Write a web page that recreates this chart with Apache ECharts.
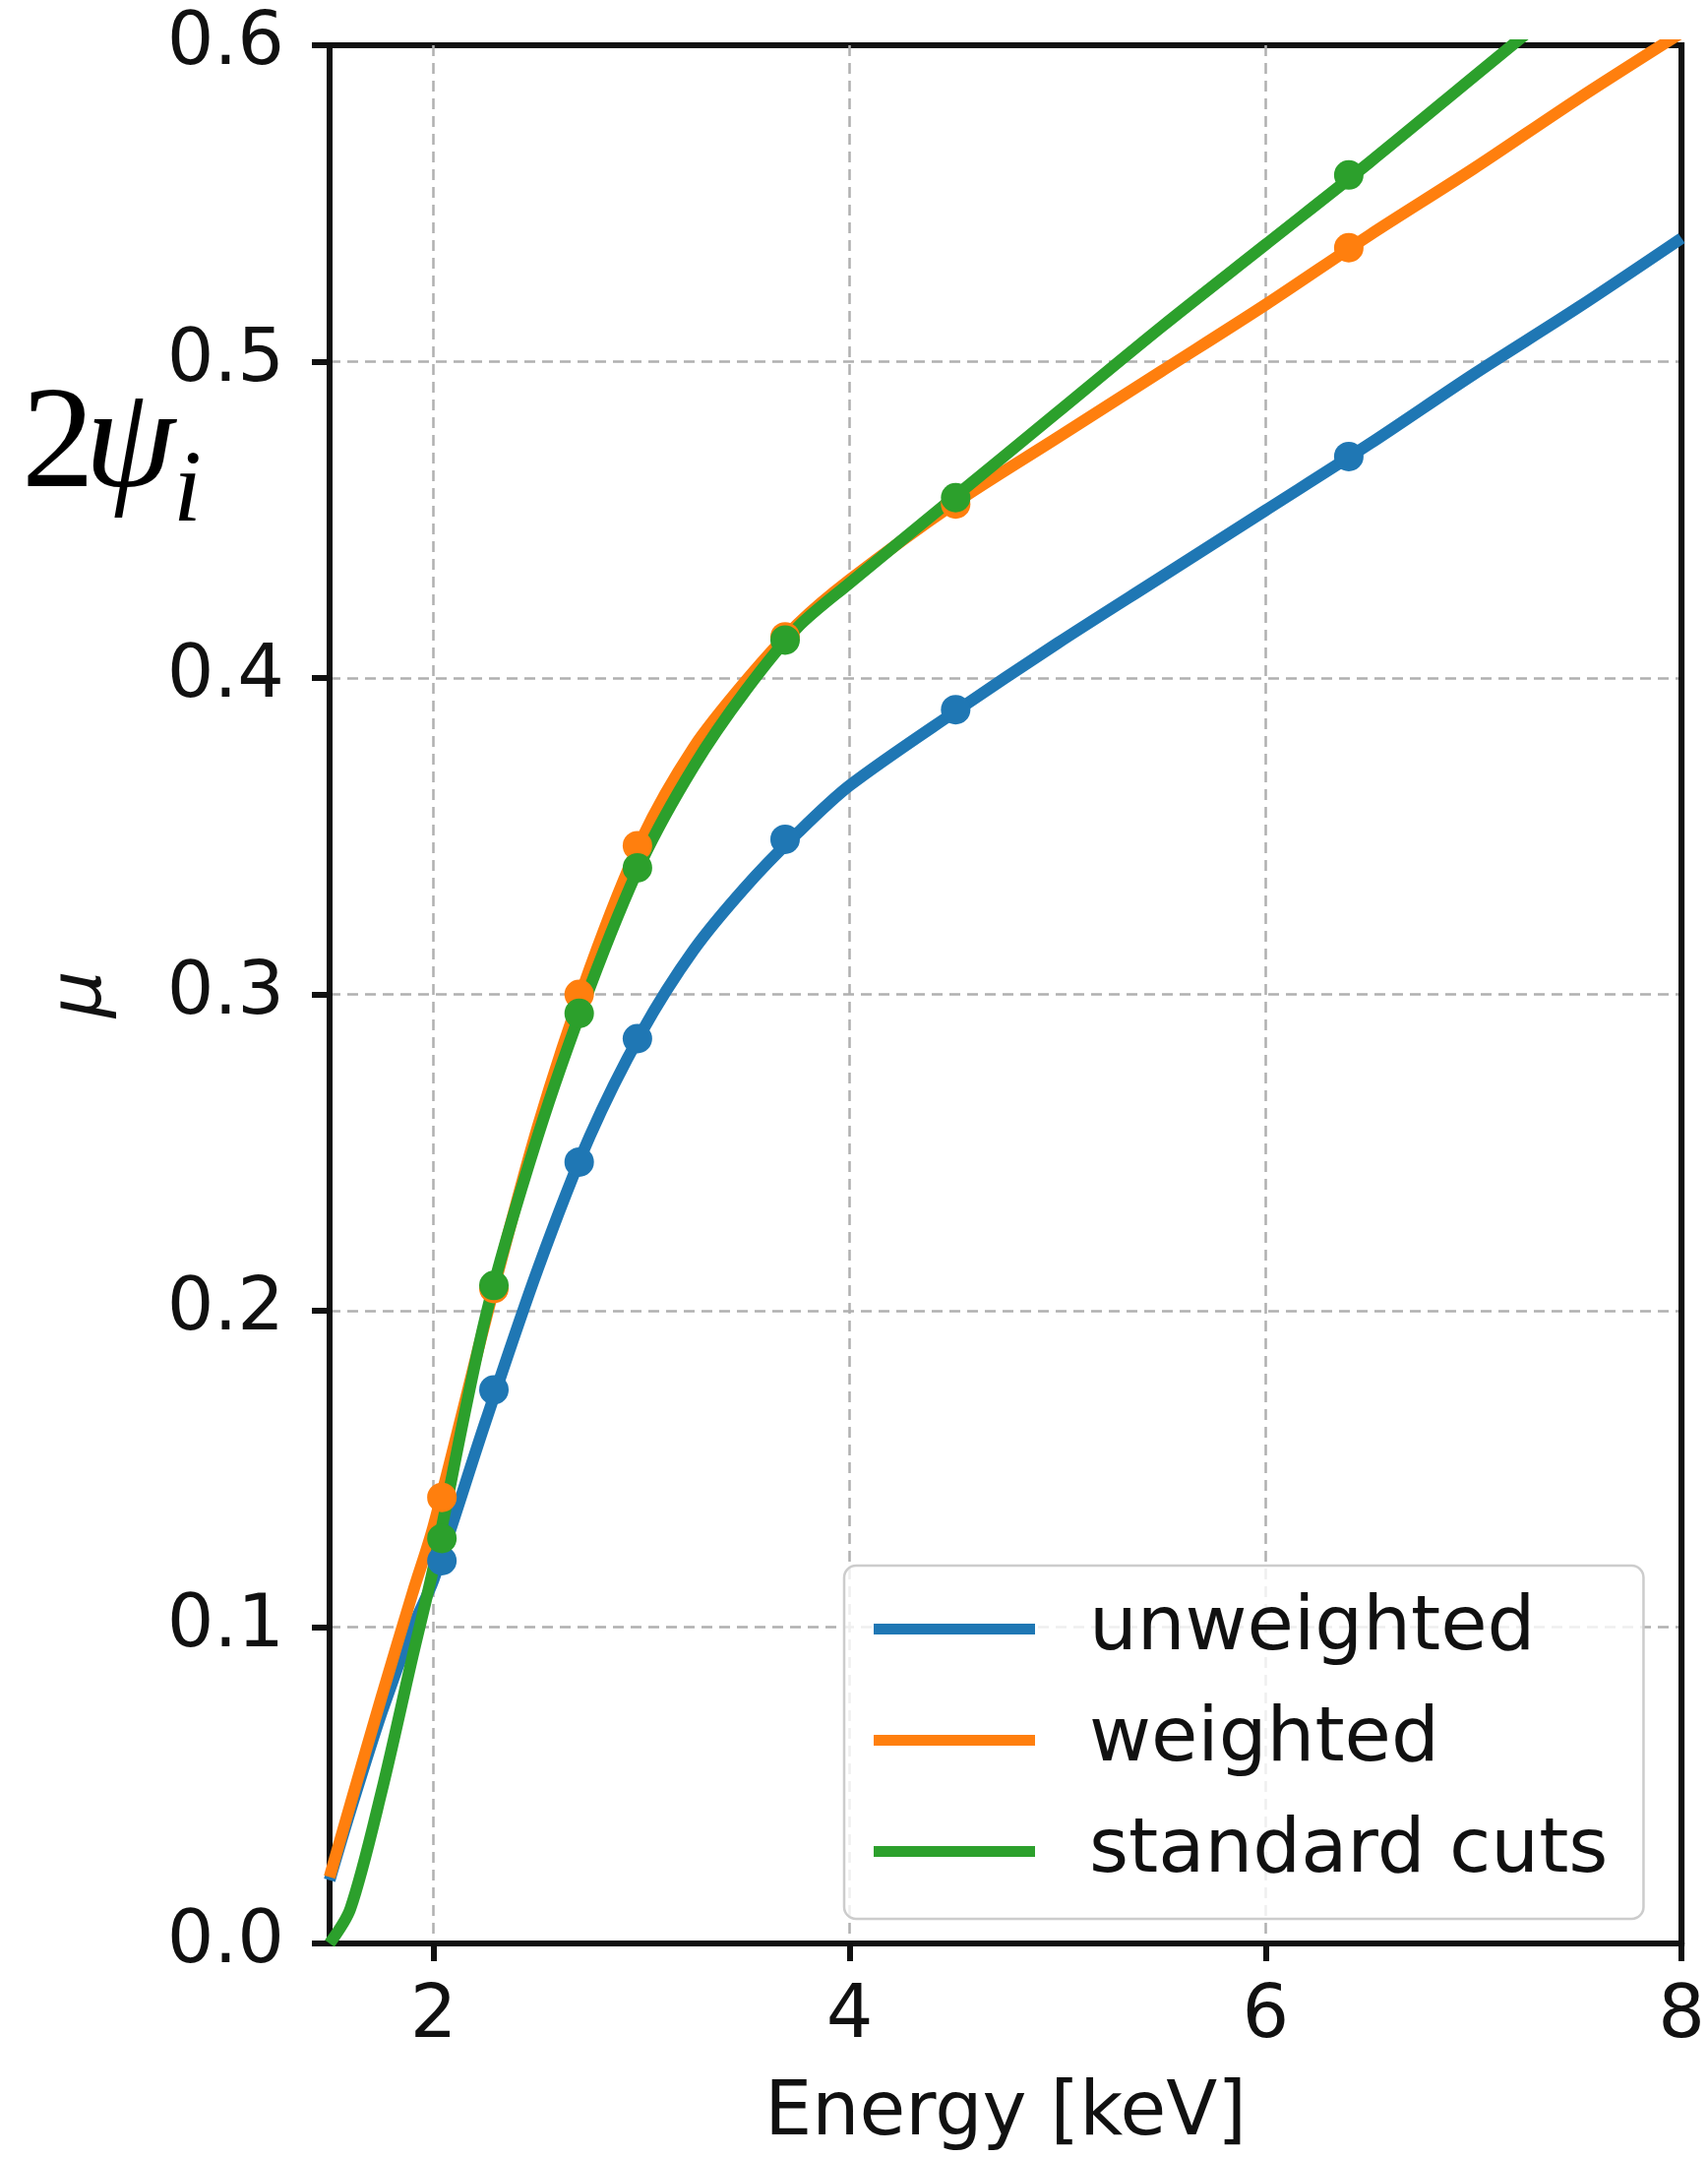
<!DOCTYPE html>
<html>
<head>
<meta charset="utf-8">
<script src="https://cdn.jsdelivr.net/npm/echarts@6/dist/echarts.min.js"></script>
<style>
  html, body { margin: 0; padding: 0; background: #fff; }
  #chart { width: 1736px; height: 2192px; }
</style>
</head>
<body>
<div id="chart"></div>
<script>
// fitted curves, sampled along energy
const curveEnergy = [1.5, 1.6, 1.75, 1.9, 2.0, 2.25, 2.5, 2.75, 3.0, 3.25, 3.5, 3.75, 4.0, 4.5, 5.0, 5.5, 6.0, 6.5, 7.0, 7.5, 8.0];
const unweightedCurve = [0.02, 0.042, 0.073, 0.1, 0.115, 0.165, 0.213, 0.255, 0.288, 0.314, 0.334, 0.351, 0.366, 0.389, 0.411, 0.432, 0.453, 0.474, 0.496, 0.517, 0.539];
const weightedCurve = [0.021, 0.044, 0.078, 0.111, 0.132, 0.197, 0.258, 0.308, 0.349, 0.378, 0.399, 0.417, 0.431, 0.455, 0.476, 0.497, 0.518, 0.54, 0.561, 0.583, 0.604];
const standardCurve = [0.0, 0.011, 0.048, 0.091, 0.119, 0.198, 0.255, 0.302, 0.342, 0.372, 0.396, 0.416, 0.43, 0.457, 0.484, 0.511, 0.537, 0.563, 0.59, 0.617, 0.644];

// measured points
const markEnergy = [2.04, 2.29, 2.70, 2.98, 3.69, 4.51, 6.40];
const unweightedMarks = [0.121, 0.175, 0.247, 0.286, 0.349, 0.390, 0.470];
const weightedMarks = [0.141, 0.207, 0.300, 0.347, 0.413, 0.455, 0.536];
const standardMarks = [0.128, 0.208, 0.294, 0.340, 0.412, 0.457, 0.559];

const seriesNames = ["unweighted", "weighted", "standard cuts"];
const seriesColors = ["#1f77b4", "#ff7f0e", "#2ca02c"];
const xTicks = [2, 4, 6, 8];
const yTicks = [0.0, 0.1, 0.2, 0.3, 0.4, 0.5, 0.6];

const pair = (xs, ys) => xs.map((x, i) => [x, ys[i]]);
const curves = [unweightedCurve, weightedCurve, standardCurve];
const marks = [unweightedMarks, weightedMarks, standardMarks];

const font = "DejaVu Sans";
const frame = { show: true, lineStyle: { color: "#111", width: 6 } };
const gridStyle = { color: "#b0b0b0", width: 2.5, type: [11, 7] };

const series = [];
seriesNames.forEach((name, i) => {
    series.push({
        name: name,
        type: "line",
        data: pair(curveEnergy, curves[i]),
        smooth: 0.3,
        symbol: "none",
        clip: true,
        lineStyle: { width: 12, color: seriesColors[i] },
        itemStyle: { color: seriesColors[i] },
        z: 2,
    });
    series.push({
        name: name + " points",
        type: "scatter",
        data: pair(markEnergy, marks[i]),
        symbolSize: 30,
        itemStyle: { color: seriesColors[i], opacity: 1 },
        z: 2,
    });
});

const chart = echarts.init(document.getElementById("chart"));
chart.setOption({
    animation: false,
    backgroundColor: "#fff",
    grid: {
        left: 335, right: 22, top: 46, bottom: 210,
        show: true, borderColor: "#111", borderWidth: 6,
    },
    xAxis: [
        {
            type: "value",
            min: 1.5,
            max: 8,
            name: "Energy [keV]",
            nameLocation: "middle",
            nameGap: 136,
            nameTextStyle: { fontFamily: font, fontSize: 76, color: "#111" },
            axisLine: frame,
            axisTick: { show: true, customValues: xTicks, length: 18, lineStyle: { color: "#111", width: 6 } },
            axisLabel: { customValues: xTicks, margin: 38, fontFamily: font, fontSize: 75, color: "#111" },
            splitLine: { show: true, showMinLine: true, showMaxLine: false, lineStyle: gridStyle },
        },
        {
            type: "value", position: "top", min: 1.5, max: 8,
            axisLine: frame, axisTick: { show: false }, axisLabel: { show: false }, splitLine: { show: false },
        },
    ],
    yAxis: [
        {
            type: "value",
            min: 0,
            max: 0.6,
            interval: 0.1,
            name: "μ",
            nameLocation: "middle",
            nameRotate: 90,
            nameGap: 215,
            nameTextStyle: { fontFamily: font, fontStyle: "italic", fontSize: 75, color: "#111" },
            axisLine: frame,
            axisTick: { show: true, length: 18, lineStyle: { color: "#111", width: 6 } },
            axisLabel: {
                margin: 46, fontFamily: font, fontSize: 75, color: "#111",
                formatter: (v) => (yTicks.some((t) => Math.abs(t - v) < 1e-9) ? v.toFixed(1) : ""),
            },
            splitLine: { show: true, showMinLine: false, showMaxLine: false, lineStyle: gridStyle },
        },
        {
            type: "value", position: "right", min: 0, max: 0.6, interval: 0.1,
            axisLine: frame, axisTick: { show: false }, axisLabel: { show: false }, splitLine: { show: false },
        },
    ],
    legend: {
        data: seriesNames,
        orient: "vertical",
        left: 858,
        top: 1591,
        icon: "rect",
        itemWidth: 164,
        itemHeight: 11,
        itemGap: 36,
        padding: [26, 36, 30, 30],
        backgroundColor: "rgba(255,255,255,0.8)",
        borderColor: "#cccccc",
        borderWidth: 2.5,
        borderRadius: 12,
        textStyle: { fontFamily: font, fontSize: 77, color: "#111", lineHeight: 74, padding: [0, 0, 0, 50] },
    },
    graphic: [
        {
            type: "text",
            left: 22,
            top: 381,
            style: { text: "2", font: "148px 'Liberation Serif'", fill: "#000" },
        },
        {
            type: "text",
            left: 86,
            top: 381,
            style: { text: "ψ", font: "italic 148px 'Liberation Serif'", fill: "#000" },
        },
        {
            type: "text",
            left: 176,
            top: 450,
            style: { text: "i", font: "italic 104px 'Liberation Serif'", fill: "#000" },
        },
    ],
    series: series,
});
</script>
</body>
</html>
